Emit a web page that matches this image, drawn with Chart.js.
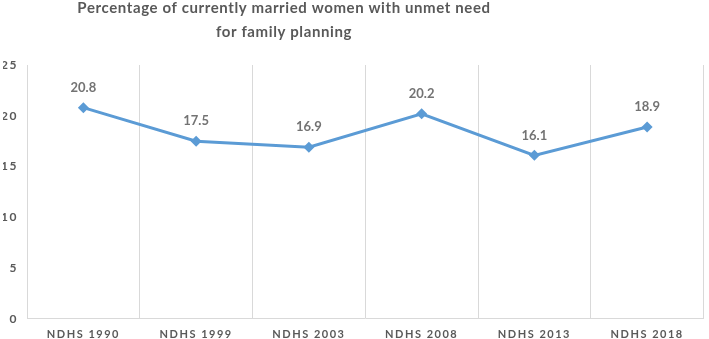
<!DOCTYPE html>
<html lang="en">
<head>
    <meta charset="UTF-8">
    <title>Unmet need for family planning</title>
    <script src="https://cdn.jsdelivr.net/npm/chart.js"></script>
    <style>
        html, body { margin: 0; padding: 0; background: #fff; }
        #wrap { width: 709px; height: 339px; }
    </style>
</head>
<body>
<div id="wrap">
    <canvas id="lineChart"></canvas>
</div>

<script>
    // données
    const surveys = ['NDHS 1990', 'NDHS 1999', 'NDHS 2003', 'NDHS 2008', 'NDHS 2013', 'NDHS 2018'];
    const unmetNeed = [20.8, 17.5, 16.9, 20.2, 16.1, 18.9];
    const titleLines = ['Percentage of currently married women with unmet need', 'for family planning'];

    // espacement des lettres (comme dans l'original Excel)
    const spacingPlugin = {
        id: 'spacing',
        beforeDraw(chart) {
            chart.ctx.letterSpacing = '1.5px';
        },
        afterLayout(chart) {
            // le titre est centré plus à gauche dans l'original
            const t = chart.titleBlock;
            if (t) {
                t.left = 0;
                t.right = 568;
                if (!t._wrapped) {
                    const origDraw = t.draw;
                    t.draw = function () {
                        const c = this.ctx;
                        const prev = c.letterSpacing;
                        c.letterSpacing = '0.6px';
                        origDraw.call(this);
                        c.letterSpacing = prev;
                    };
                    t._wrapped = true;
                }
            }
        },
        afterDraw(chart) {
            chart.ctx.letterSpacing = '0px';
        }
    };

    const valueLabels = {
        id: 'valueLabels',
        afterDatasetsDraw(chart) {
            const ctx = chart.ctx;
            const meta = chart.getDatasetMeta(0);
            ctx.save();
            ctx.letterSpacing = '0px';
            ctx.font = 'bold 13px Lato';
            ctx.fillStyle = '#737373';
            ctx.textAlign = 'center';
            ctx.textBaseline = 'middle';
            meta.data.forEach((pt, i) => {
                ctx.fillText(unmetNeed[i].toFixed(1), pt.x, pt.y - 20);
            });
            ctx.restore();
        }
    };

    const ctx = document.getElementById('lineChart').getContext('2d');
    new Chart(ctx, {
        type: 'line',
        data: {
            labels: surveys,
            datasets: [{
                data: unmetNeed,
                borderColor: '#5B9BD5',
                backgroundColor: '#5B9BD5',
                borderWidth: 3,
                pointStyle: 'rectRot',
                pointRadius: 5.5,
                pointBorderWidth: 0,
                tension: 0
            }]
        },
        options: {
            responsive: true,
            maintainAspectRatio: false,
            animation: false,
            layout: { padding: { left: 3, right: 1, top: 0, bottom: -11 } },
            plugins: {
                legend: { display: false },
                tooltip: { enabled: false },
                title: {
                    display: true,
                    text: titleLines,
                    color: '#595959',
                    font: { family: 'Lato', size: 15, weight: 'bold', lineHeight: 1.6 },
                    padding: { top: -4, bottom: 21 }
                }
            },
            scales: {
                x: {
                    offset: true,
                    grid: { display: true, offset: true, color: '#D9D9D9', drawTicks: false },
                    border: { display: true, color: '#D9D9D9' },
                    ticks: {
                        color: '#595959',
                        padding: 9,
                        font: { family: 'Lato', size: 11, weight: 'bold' }
                    }
                },
                y: {
                    min: 0,
                    max: 25,
                    afterFit(scale) {
                        scale.width = 24;
                    },
                    ticks: {
                        stepSize: 5,
                        color: '#595959',
                        padding: 9,
                        font: { family: 'Lato', size: 12, weight: 'bold' }
                    },
                    grid: { display: false, drawTicks: false },
                    border: { display: false }
                }
            }
        },
        plugins: [spacingPlugin, valueLabels]
    });
</script>
</body>
</html>
